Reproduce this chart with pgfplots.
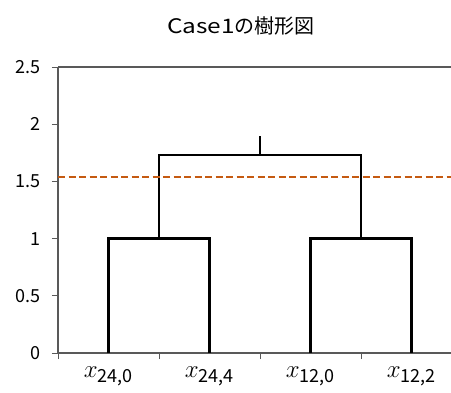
\documentclass[border=0pt]{standalone}
\usepackage{fontspec}
\setmainfont{Noto Sans CJK JP}
\usepackage{pgfplots}
\pgfplotsset{compat=1.18}
\definecolor{axgray}{HTML}{595959}
\definecolor{cutorange}{HTML}{C55A11}
\begin{document}
\begin{tikzpicture}[x=1pt,y=1pt]
\useasboundingbox (0,0) rectangle (451,392);
\node[font=\fontsize{20}{20}\selectfont, anchor=center] at (241,366) {\scalebox{1.22}[1]{Case1}の樹形図};
\begin{axis}[
  at={(58pt,39pt)}, anchor=south west,
  scale only axis, width=393pt, height=286pt,
  xmin=0, xmax=3.89, ymin=0, ymax=2.5,
  axis x line*=bottom, axis y line*=left,
  axis line style={axgray, line width=1.2pt, -},
  ytick={0,0.5,1,1.5,2,2.5},
  yticklabels={0,0.5,1,1.5,2,2.5},
  tick align=outside,
  major tick length=6pt,
  minor tick length=6pt,
  tick style={axgray, line width=1pt},
  yticklabel style={font=\fontsize{18}{18}\selectfont, anchor=east, xshift=-8pt},
  xtick={0.5,1.5,2.5,3.5},
  xticklabels={{$x_{\raisebox{-2pt}{\fontsize{18}{18}\selectfont 24,0}}$},{$x_{\raisebox{-2pt}{\fontsize{18}{18}\selectfont 24,4}}$},{$x_{\raisebox{-2pt}{\fontsize{18}{18}\selectfont 12,0}}$},{$x_{\raisebox{-2pt}{\fontsize{18}{18}\selectfont 12,2}}$}},
  xticklabel style={font=\fontsize{28}{28}\selectfont, anchor=north, yshift=-4pt},
  x tick style={draw=none},
  minor xtick={0,1,2,3},
  minor x tick style={draw=axgray, line width=1pt},
  clip=false,
]
\addplot[axgray, line width=1.2pt] coordinates {(0,2.5) (3.89,2.5)};
\addplot[black, line width=2.4pt, line join=miter] coordinates {(0.5,0) (0.5,1) (1.5,1) (1.5,0)};
\addplot[black, line width=2.4pt, line join=miter] coordinates {(2.5,0) (2.5,1) (3.5,1) (3.5,0)};
\addplot[black, line width=2.4pt, line join=miter] coordinates {(1,1) (1,1.73) (3,1.73) (3,1)};
\addplot[black, line width=2.4pt] coordinates {(2,1.73) (2,1.9)};
\addplot[cutorange, line width=2.4pt, dash pattern=on 7pt off 3.5pt] coordinates {(0,1.54) (3.89,1.54)};
\end{axis}
\end{tikzpicture}
\end{document}
